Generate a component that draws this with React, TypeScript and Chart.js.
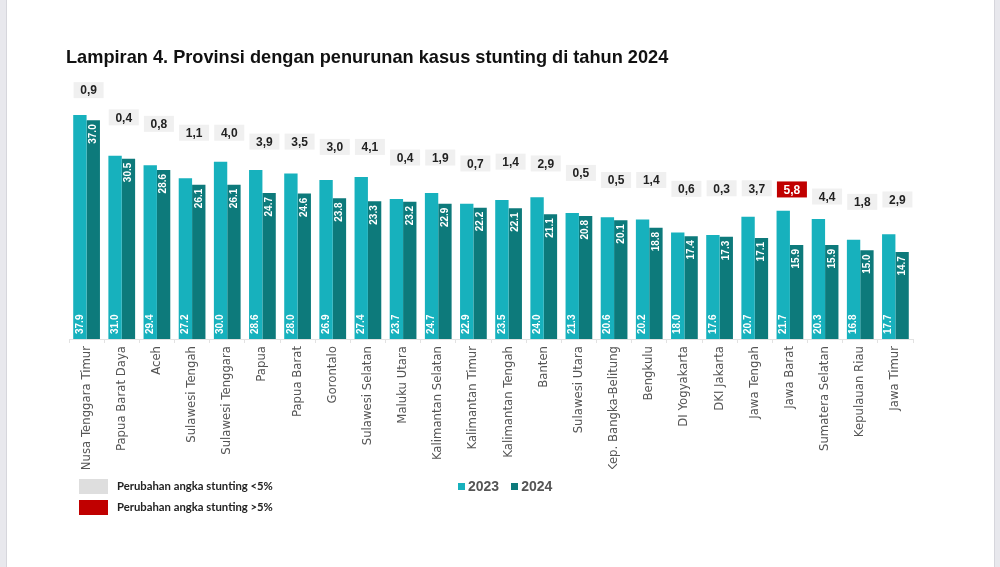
import { useEffect, useRef } from 'react'
import { Chart, registerables } from 'chart.js'

Chart.register(...registerables)

const provinces = [
  'Nusa Tenggara Timur', 'Papua Barat Daya', 'Aceh', 'Sulawesi Tengah', 'Sulawesi Tenggara', 'Papua',
  'Papua Barat', 'Gorontalo', 'Sulawesi Selatan', 'Maluku Utara', 'Kalimantan Selatan', 'Kalimantan Timur',
  'Kalimantan Tengah', 'Banten', 'Sulawesi Utara', 'Kep. Bangka-Belitung', 'Bengkulu', 'DI Yogyakarta',
  'DKI Jakarta', 'Jawa Tengah', 'Jawa Barat', 'Sumatera Selatan', 'Kepulauan Riau', 'Jawa Timur',
]

const values2023 = [37.9, 31.0, 29.4, 27.2, 30.0, 28.6, 28.0, 26.9, 27.4, 23.7, 24.7, 22.9, 23.5, 24.0, 21.3, 20.6, 20.2, 18.0, 17.6, 20.7, 21.7, 20.3, 16.8, 17.7]
const values2024 = [37.0, 30.5, 28.6, 26.1, 26.1, 24.7, 24.6, 23.8, 23.3, 23.2, 22.9, 22.2, 22.1, 21.1, 20.8, 20.1, 18.8, 17.4, 17.3, 17.1, 15.9, 15.9, 15.0, 14.7]

// change in stunting rate, shown in the boxes above each pair
const changes = [0.9, 0.4, 0.8, 1.1, 4.0, 3.9, 3.5, 3.0, 4.1, 0.4, 1.9, 0.7, 1.4, 2.9, 0.5, 0.5, 1.4, 0.6, 0.3, 3.7, 5.8, 4.4, 1.8, 2.9]
// level (in % units) at which each change box sits in the picture
const changeLevel = [42.1, 37.5, 36.4, 34.9, 34.9, 33.4, 33.4, 32.5, 32.5, 30.7, 30.7, 29.7, 30.0, 29.7, 28.1, 26.9, 26.9, 25.4, 25.5, 25.5, 25.3, 24.1, 23.2, 23.6]

const C2023 = '#17b1bd'
const C2024 = '#0d7a7b'

const labelPlugin = {
  id: 'labelPlugin',
  afterDatasetsDraw(chart: any) {
    const ctx = chart.ctx
    chart.data.datasets.forEach((ds: any, di: number) => {
      const meta = chart.getDatasetMeta(di)
      meta.data.forEach((bar: any, i: number) => {
        ctx.save()
        ctx.translate(bar.x, di === 0 ? bar.base - 5 : bar.y + 4)
        ctx.rotate(-Math.PI / 2)
        ctx.font = 'bold 10px "Liberation Sans", Arial, sans-serif'
        ctx.fillStyle = '#ffffff'
        ctx.textBaseline = 'middle'
        ctx.textAlign = di === 0 ? 'left' : 'right'
        ctx.fillText(Number(ds.data[i]).toFixed(1), 0, 0)
        ctx.restore()
      })
    })

    const x = chart.scales.x
    const y = chart.scales.y
    changes.forEach((c, i) => {
      const cx = x.getPixelForValue(i) + 2
      const cy = y.getPixelForValue(changeLevel[i])
      const big = c > 5
      const w = 30
      const h = 16
      ctx.save()
      ctx.fillStyle = big ? '#c00000' : '#f0f0f0'
      ctx.fillRect(cx - w / 2, cy - h / 2, w, h)
      ctx.font = 'bold 12px "Liberation Sans", Arial, sans-serif'
      ctx.fillStyle = big ? '#ffffff' : '#222222'
      ctx.textAlign = 'center'
      ctx.textBaseline = 'middle'
      ctx.fillText(c.toFixed(1).replace('.', ','), cx, cy + 1)
      ctx.restore()
    })
  },
}

export default function App() {
  const canvasRef = useRef<HTMLCanvasElement>(null)
  const chartRef = useRef<any>(null)

  useEffect(() => {
    if (!canvasRef.current) return
    if (chartRef.current) chartRef.current.destroy()

    chartRef.current = new Chart(canvasRef.current, {
      type: 'bar',
      data: {
        labels: provinces,
        datasets: [
          { label: '2023', data: values2023, backgroundColor: C2023, categoryPercentage: 0.76, barPercentage: 1 },
          { label: '2024', data: values2024, backgroundColor: C2024, categoryPercentage: 0.76, barPercentage: 1 },
        ],
      },
      options: {
        responsive: true,
        maintainAspectRatio: false,
        animation: false,
        layout: { padding: { left: 69, right: 87, top: 73, bottom: 98 } },
        plugins: {
          legend: { display: false },
          tooltip: { enabled: false },
        },
        scales: {
          x: {
            afterFit: (scale: any) => { scale.height = 130 },
            grid: { offset: true, drawOnChartArea: false, tickLength: 4, color: '#e2e2e2' },
            border: { color: '#e2e2e2' },
            ticks: {
              autoSkip: false,
              maxRotation: 90,
              minRotation: 90,
              padding: 3,
              color: '#555555',
              font: { family: '"DejaVu Sans", sans-serif', size: 11.7 },
            },
          },
          y: { display: false, min: 0, max: 45 },
        },
      },
      plugins: [labelPlugin],
    })

    return () => { if (chartRef.current) chartRef.current.destroy() }
  }, [])

  return (
    <div style={{ position: 'fixed', inset: 0, background: '#e8e8ed', overflow: 'hidden' }}>
      <div style={{ position: 'absolute', left: 6, top: 0, width: 987, height: 567, background: '#ffffff', borderLeft: '1px solid #d6d6dc', borderRight: '1px solid #d6d6dc' }} />
      <div style={{ position: 'absolute', left: 0, top: 0, width: 1000, height: 567 }}>
        <canvas ref={canvasRef} />
      </div>
      <div style={{ position: 'absolute', left: 66, top: 47, font: 'bold 18.2px "Liberation Sans", Arial, sans-serif', color: '#111', whiteSpace: 'nowrap' }}>
        Lampiran 4. Provinsi dengan penurunan kasus stunting di tahun 2024
      </div>
      <div style={{ position: 'absolute', left: 79, top: 479, width: 29, height: 15, background: '#dedede' }} />
      <div style={{ position: 'absolute', left: 117, top: 479, lineHeight: '15px', font: 'bold 11.3px Lato, sans-serif', color: '#222', whiteSpace: 'nowrap' }}>
        Perubahan angka stunting &lt;5%
      </div>
      <div style={{ position: 'absolute', left: 79, top: 500, width: 29, height: 15, background: '#c00000' }} />
      <div style={{ position: 'absolute', left: 117, top: 500, lineHeight: '15px', font: 'bold 11.3px Lato, sans-serif', color: '#222', whiteSpace: 'nowrap' }}>
        Perubahan angka stunting &gt;5%
      </div>
      <div style={{ position: 'absolute', left: 458, top: 478, display: 'flex', alignItems: 'center', font: 'bold 14px "Liberation Sans", Arial, sans-serif', color: '#555', lineHeight: '16px' }}>
        <span style={{ width: 7, height: 7, background: C2023, marginRight: 3 }} />
        <span>2023</span>
        <span style={{ width: 7, height: 7, background: C2024, marginLeft: 12, marginRight: 3 }} />
        <span>2024</span>
      </div>
    </div>
  )
}
